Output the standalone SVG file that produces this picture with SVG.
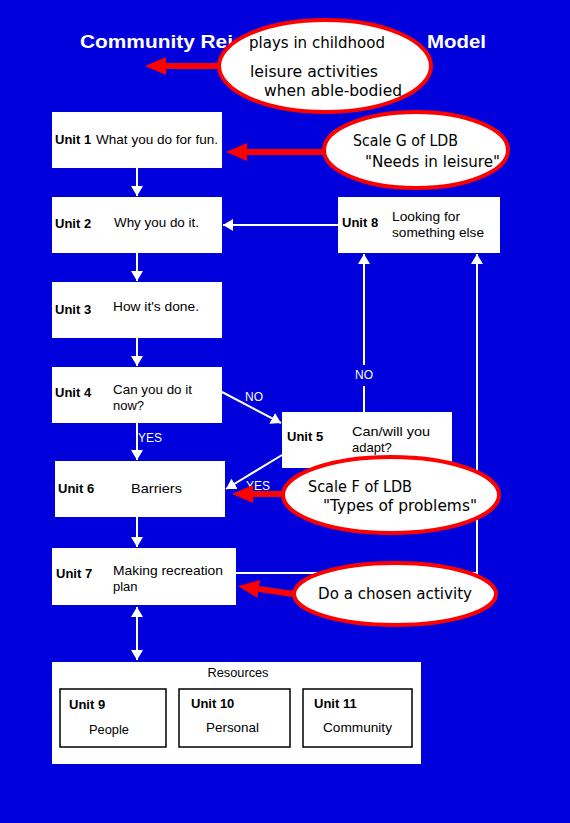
<svg xmlns="http://www.w3.org/2000/svg" width="570" height="823" viewBox="0 0 570 823">
<style>
.bg{fill:#0000DC}
.box{fill:#fff}
.ibox{fill:#fff;stroke:#000;stroke-width:1.5}
.ell{fill:#fff;stroke:#FF0000;stroke-width:4}
.t{font-family:"Liberation Sans",Arial,sans-serif;font-size:13px;fill:#000}
.b{font-family:"Liberation Sans",Arial,sans-serif;font-size:13px;font-weight:bold;fill:#000}
.e{font-family:"DejaVu Sans","Liberation Sans",sans-serif;font-size:15px;fill:#000}
.w{font-family:"Liberation Sans",Arial,sans-serif;font-size:12px;fill:#fff}
.title{font-family:"Liberation Sans",Arial,sans-serif;font-size:18px;font-weight:bold;fill:#fff}
.wl{fill:none;stroke:#fff;stroke-width:2}
.rl{fill:none;stroke:#FF0000;stroke-width:6}
</style>
<defs>
<marker id="wa" viewBox="0 0 10 12" refX="10" refY="6" markerWidth="10" markerHeight="12" markerUnits="userSpaceOnUse" orient="auto-start-reverse">
<path d="M0,0 L10,6 L0,12 Z" fill="#fff"/>
</marker>
<marker id="ra" viewBox="0 0 21 18" refX="0" refY="9" markerWidth="21" markerHeight="18" markerUnits="userSpaceOnUse" orient="auto">
<path d="M0,0 L21,9 L0,18 Z" fill="#FF0000"/>
</marker>
</defs>
<rect class="bg" x="0" y="0" width="570" height="823"/>
<g id="title">
<text class="title" x="80" y="48" textLength="153" lengthAdjust="spacingAndGlyphs">Community Rei</text>
<text class="title" x="427" y="48" textLength="59" lengthAdjust="spacingAndGlyphs">Model</text>
</g>
<g id="connectors">
<line class="wl" x1="137" y1="168" x2="137" y2="196" marker-end="url(#wa)"/>
<line class="wl" x1="137" y1="253" x2="137" y2="281" marker-end="url(#wa)"/>
<line class="wl" x1="137" y1="338" x2="137" y2="366" marker-end="url(#wa)"/>
<line class="wl" x1="137" y1="423" x2="137" y2="460" marker-end="url(#wa)"/>
<text class="w" x="138" y="442">YES</text>
<line class="wl" x1="137" y1="517" x2="137" y2="547" marker-end="url(#wa)"/>
<line class="wl" x1="137" y1="607" x2="137" y2="660" marker-start="url(#wa)" marker-end="url(#wa)"/>
<line class="wl" x1="338" y1="225" x2="223" y2="225" marker-end="url(#wa)"/>
<line class="wl" x1="222" y1="392" x2="281" y2="423" marker-end="url(#wa)"/>
<text class="w" x="245" y="401">NO</text>
<line class="wl" x1="282" y1="455" x2="226" y2="489" marker-end="url(#wa)"/>
<text class="w" x="246" y="490">YES</text>
<line class="wl" x1="364" y1="412" x2="364" y2="386"/>
<line class="wl" x1="364" y1="365" x2="364" y2="254" marker-end="url(#wa)"/>
<text class="w" x="364" y="379" text-anchor="middle">NO</text>
<polyline class="wl" points="236,573 477,573 477,254" marker-end="url(#wa)"/>
<line class="rl" x1="230" y1="66" x2="166" y2="66" marker-end="url(#ra)"/>
<line class="rl" x1="330" y1="152" x2="247" y2="152" marker-end="url(#ra)"/>
<line class="rl" x1="290" y1="494" x2="253" y2="494" marker-end="url(#ra)"/>
<line class="rl" x1="300" y1="595" x2="258.8" y2="589" marker-end="url(#ra)"/>
</g>
<g id="unit1">
<rect class="box" x="52" y="112" width="170" height="56"/>
<text class="b" x="55" y="144">Unit 1</text>
<text class="t" x="96" y="144" textLength="122" lengthAdjust="spacingAndGlyphs">What you do for fun.</text>
</g>
<g id="unit2">
<rect class="box" x="52" y="197" width="170" height="56"/>
<text class="b" x="55" y="228">Unit 2</text>
<text class="t" x="114" y="227" textLength="85" lengthAdjust="spacingAndGlyphs">Why you do it.</text>
</g>
<g id="unit3">
<rect class="box" x="52" y="282" width="170" height="56"/>
<text class="b" x="55" y="314">Unit 3</text>
<text class="t" x="113" y="311" textLength="86" lengthAdjust="spacingAndGlyphs">How it's done.</text>
</g>
<g id="unit4">
<rect class="box" x="52" y="367" width="170" height="56"/>
<text class="b" x="55" y="397">Unit 4</text>
<text class="t" x="113" y="394" textLength="79" lengthAdjust="spacingAndGlyphs">Can you do it</text>
<text class="t" x="113" y="410">now?</text>
</g>
<g id="unit5">
<rect class="box" x="282" y="412" width="170" height="56"/>
<text class="b" x="287" y="441">Unit 5</text>
<text class="t" x="352" y="436" textLength="78" lengthAdjust="spacingAndGlyphs">Can/will you</text>
<text class="t" x="352" y="452">adapt?</text>
</g>
<g id="unit6">
<rect class="box" x="55" y="461" width="170" height="56"/>
<text class="b" x="58" y="493">Unit 6</text>
<text class="t" x="131" y="493" textLength="51" lengthAdjust="spacingAndGlyphs">Barriers</text>
</g>
<g id="unit7">
<rect class="box" x="52" y="548" width="184" height="57"/>
<text class="b" x="56" y="578">Unit 7</text>
<text class="t" x="113" y="575" textLength="110" lengthAdjust="spacingAndGlyphs">Making recreation</text>
<text class="t" x="113" y="591">plan</text>
</g>
<g id="unit8">
<rect class="box" x="338" y="197" width="162" height="56"/>
<text class="b" x="342" y="227">Unit 8</text>
<text class="t" x="392" y="221" textLength="68" lengthAdjust="spacingAndGlyphs">Looking for</text>
<text class="t" x="392" y="237" textLength="92" lengthAdjust="spacingAndGlyphs">something else</text>
</g>
<g id="resources">
<rect class="box" x="52" y="662" width="369" height="102"/>
<text class="t" x="238" y="677" text-anchor="middle" textLength="61" lengthAdjust="spacingAndGlyphs">Resources</text>
<g id="unit9">
<rect class="ibox" x="60" y="689" width="106" height="58"/>
<text class="b" x="69" y="709">Unit 9</text>
<text class="t" x="89" y="734" textLength="40" lengthAdjust="spacingAndGlyphs">People</text>
</g>
<g id="unit10">
<rect class="ibox" x="179" y="689" width="111" height="58"/>
<text class="b" x="191" y="708">Unit 10</text>
<text class="t" x="206" y="732" textLength="53" lengthAdjust="spacingAndGlyphs">Personal</text>
</g>
<g id="unit11">
<rect class="ibox" x="303" y="689" width="109" height="58"/>
<text class="b" x="314" y="708">Unit 11</text>
<text class="t" x="323" y="732" textLength="69" lengthAdjust="spacingAndGlyphs">Community</text>
</g>
</g>
<g id="note-childhood">
<ellipse class="ell" cx="325" cy="66" rx="106" ry="46"/>
<text class="e" x="249" y="48" textLength="136" lengthAdjust="spacingAndGlyphs">plays in childhood</text>
<text class="e" x="250" y="77" textLength="128" lengthAdjust="spacingAndGlyphs">leisure activities</text>
<text class="e" x="264" y="96" textLength="138" lengthAdjust="spacingAndGlyphs">when able-bodied</text>
</g>
<g id="note-scaleG">
<ellipse class="ell" cx="416" cy="150" rx="92" ry="38"/>
<text class="e" x="353" y="146" textLength="105" lengthAdjust="spacingAndGlyphs">Scale G of LDB</text>
<text class="e" x="365" y="167" textLength="135" lengthAdjust="spacingAndGlyphs">"Needs in leisure"</text>
</g>
<g id="note-scaleF">
<ellipse class="ell" cx="391" cy="495" rx="108" ry="38"/>
<text class="e" x="308" y="492" textLength="104" lengthAdjust="spacingAndGlyphs">Scale F of LDB</text>
<text class="e" x="323" y="511" textLength="154" lengthAdjust="spacingAndGlyphs">"Types of problems"</text>
</g>
<g id="note-activity">
<ellipse class="ell" cx="395" cy="594" rx="101" ry="31"/>
<text class="e" x="318" y="599" textLength="154" lengthAdjust="spacingAndGlyphs">Do a chosen activity</text>
</g>
</svg>
